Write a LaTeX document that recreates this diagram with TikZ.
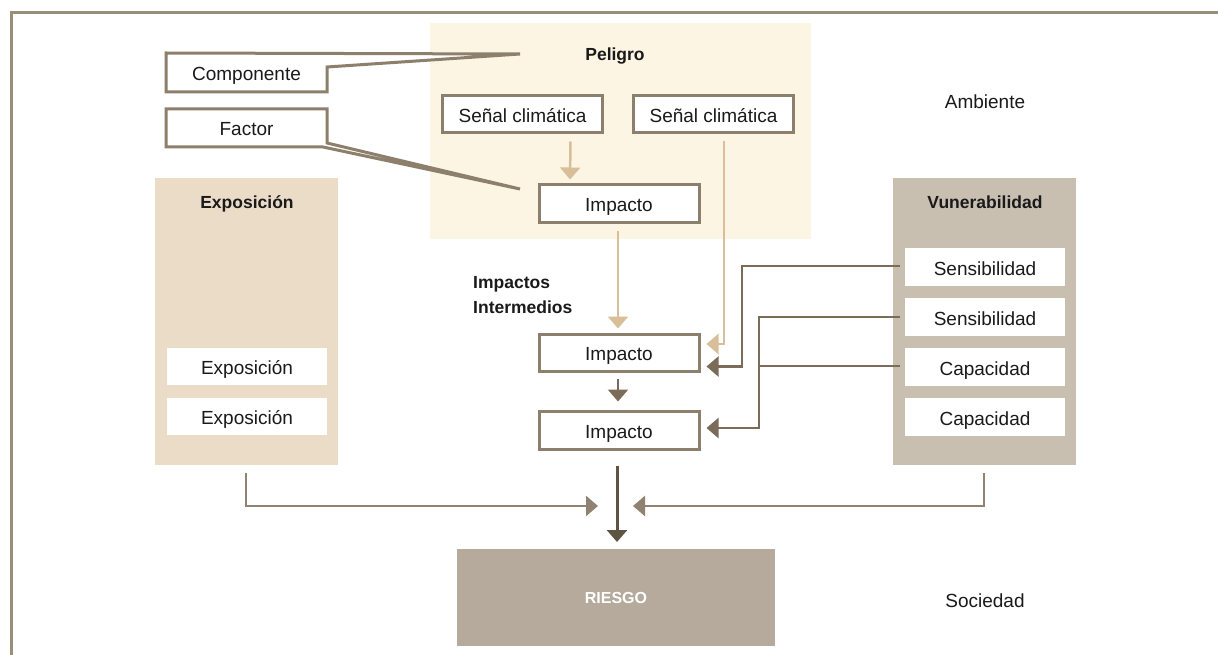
\documentclass[tikz,border=0pt]{standalone}
\usepackage{fontspec}
\setmainfont{Liberation Sans}
\usetikzlibrary{arrows.meta,calc}
\definecolor{frameC}{HTML}{9A8D79}
\definecolor{boxC}{HTML}{8C7F6C}
\definecolor{peligroBg}{HTML}{FDF5E3}
\definecolor{expoBg}{HTML}{EBDCC7}
\definecolor{vulnBg}{HTML}{C9BFB1}
\definecolor{riesgoBg}{HTML}{B6AA9D}
\definecolor{lightArr}{HTML}{D8BF9A}
\definecolor{darkArr}{HTML}{7A6C58}
\definecolor{deepArr}{HTML}{5F5343}
\definecolor{midArr}{HTML}{8F8270}
\definecolor{txt}{HTML}{1A1A1A}
\tikzset{
  txtfont/.style={font=\fontsize{19}{23}\selectfont, text=txt, text height=16pt, text depth=0pt},
  boldfont/.style={font=\fontsize{17.5}{25}\selectfont\bfseries, text=txt},
  headfont/.style={boldfont, text height=15pt, text depth=0pt},
  framebox/.style={draw=boxC, line width=3pt, fill=white, minimum width=160pt, minimum height=37pt, inner sep=0pt, txtfont},
  whitebox/.style={fill=white, minimum width=160pt, minimum height=38pt, inner sep=0pt, txtfont},
  bgrect/.style={inner sep=0pt, outer sep=0pt},
  tip/.style={-{Triangle[width=20pt,length=12pt]}},
  lightarrow/.style={draw=lightArr, line width=2.5pt, tip, lightArr},
  darkarrow/.style={draw=darkArr, line width=2.5pt, tip, darkArr},
  midarrow/.style={draw=midArr, line width=2.5pt, tip, midArr},
  deeparrow/.style={draw=deepArr, line width=3pt, tip, deepArr},
  darkline/.style={draw=darkArr, line width=2.5pt},
  callout/.style={draw=boxC, line width=3pt, fill=white, line join=miter}
}
\begin{document}
\begin{tikzpicture}[x=1pt,y=-1pt]
\useasboundingbox (0,0) rectangle (1218,655);

% outer frame
\draw[frameC, line width=3pt] (11,656) -- (11,13) -- (1219,13);

% background panels
\fill[peligroBg] (430,23) rectangle (811,239);
\node[bgrect, fill=expoBg, minimum width=183pt, minimum height=287pt] (expo) at (246.5,321.5) {};
\node[bgrect, fill=vulnBg, minimum width=183pt, minimum height=287pt] (vuln) at (984.5,321.5) {};
\node[bgrect, fill=riesgoBg, minimum width=318pt, minimum height=97pt,
      font=\fontsize{16}{20}\selectfont\bfseries, text=white] (riesgo) at (616,597.5) {RIESGO};

% headings
\node[headfont] (peligro) at (615,53) {Peligro};
\node[headfont] (expoT) at (247,201) {Exposición};
\node[headfont] (vulnT) at (985,201) {Vunerabilidad};
\node[boldfont, align=left, anchor=north west, inner sep=0pt] (intermed) at (473,276) {Impactos\\Intermedios};
\node[txtfont] (ambiente) at (985,101) {Ambiente};
\node[txtfont] (sociedad) at (985,599) {Sociedad};

% callouts
\coordinate (tipC) at (520,54);
\coordinate (tipF) at (520,189);
\draw[callout] (166,53) -- (tipC) -- (327,67) -- (327,92) -- (166,92) -- cycle;
\node[txtfont] (comp) at (246.5,72.5) {Componente};
\draw[callout] (166,109) -- (327,109) -- (327,143) -- (tipF) -- (323,147) -- (166,147) -- cycle;
\node[txtfont] (factor) at (246.5,128) {Factor};

% hazard boxes
\node[framebox] (sc1) at (522.5,114.5) {Señal climática};
\node[framebox] (sc2) at (713.5,114.5) {Señal climática};
\node[framebox, minimum height=38pt] (imp0) at (619,204) {Impacto};

% intermediate impacts
\node[framebox] (imp1) at (619,352.5) {Impacto};
\node[framebox, minimum height=38pt] (imp2) at (619,430) {Impacto};

% exposure boxes
\node[whitebox, minimum height=37pt] (ex1) at (247,366.5) {Exposición};
\node[whitebox, minimum height=37pt] (ex2) at (247,416.5) {Exposición};

% vulnerability boxes
\node[whitebox] (se1) at (985,267) {Sensibilidad};
\node[whitebox] (se2) at (985,317) {Sensibilidad};
\node[whitebox] (ca1) at (985,367) {Capacidad};
\node[whitebox] (ca2) at (985,417) {Capacidad};

% hazard chain
\draw[lightarrow] ($(sc1.south)+(48,7)$) -- ($(imp0.north)+(-49,-4)$);
\draw[lightarrow] ($(imp0.south)+(-1,7)$) -- ($(imp1.north)+(-1,-4)$);
\draw[lightarrow] ($(sc2.south)+(10.5,7)$) |- ($(imp1.east)+(6,-8.5)$);
\draw[darkarrow] ($(imp1.south)+(-1,6)$) -- ($(imp2.north)+(-1,-8)$);

% vulnerability links
\draw[darkarrow] ($(se1.west)+(-5,-1)$) -- ++(-158,0) |- ($(imp1.east)+(6,14)$);
\draw[darkarrow] ($(se2.west)+(-5,0)$) -- ++(-141,0) |- ($(imp2.east)+(6,-2)$);
\coordinate (join) at ($(ca1.west)+(-146,-1)$);
\draw[darkline] ($(ca1.west)+(-5,-1)$) -- (join);

% towards risk
\draw[midarrow] ($(expo.south)+(-0.5,8)$) |- ($(riesgo.north)+(-18,-43)$);
\draw[midarrow] ($(vuln.south)+(-0.5,8)$) |- ($(riesgo.north)+(17,-43)$);
\draw[deeparrow] ($(imp2.south)+(-2,15)$) -- ($(riesgo.north)+(1,-7)$);
\end{tikzpicture}
\end{document}
